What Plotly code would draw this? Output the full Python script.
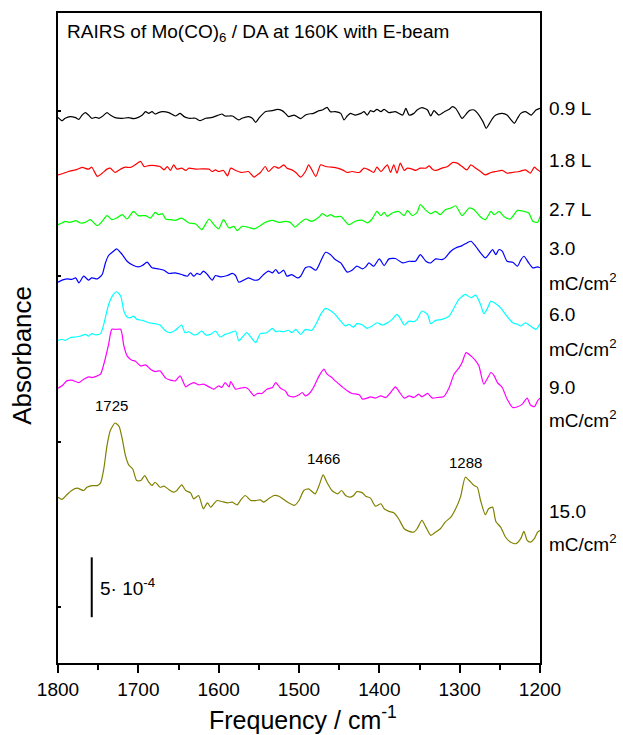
import plotly.graph_objects as go

# ---------------- data (absorbance in units of 1e-4, stacked with offsets) ----------------
black_f = [1800,1795,1791,1785,1778,1774,1770,1766,1762,1758,1753,1749,1745,1739,1735,1729,1720,1712,1706,1700,
           1695,1691,1687,1683,1679,1675,1670,1662,1654,1648,1643,1637,1629,1623,1616,1608,1600,1596,1592,1583,
           1575,1571,1563,1558,1554,1550,1542,1533,1527,1521,1517,1513,1506,1498,1492,1488,1482,1475,1471,1465,
           1461,1455,1448,1444,1440,1436,1430,1423,1419,1415,1411,1407,1403,1398,1394,1388,1380,1371,1367,1363,
           1357,1353,1347,1340,1336,1332,1326,1319,1313,1309,1305,1301,1297,1288,1282,1276,1271,1267,1264,1259,
           1255,1247,1241,1236,1232,1228,1224,1218,1211,1205,1200]
black_a = [45.61,45.33,45.53,45.67,45.58,45.44,45.80,46.00,45.80,45.53,45.61,45.53,45.67,46.00,45.80,45.58,45.53,45.58,45.50,45.61,
           45.80,46.08,45.94,46.08,45.89,46.00,46.08,46.00,45.72,45.94,45.67,45.53,45.53,45.33,45.53,45.61,45.80,45.89,45.72,45.72,
           45.39,45.53,45.67,45.53,45.19,45.53,46.08,46.17,46.28,46.17,45.94,45.67,45.80,45.50,45.80,45.89,45.94,46.17,46.22,46.44,
           46.08,46.08,45.94,45.39,45.72,45.94,45.80,45.94,46.08,45.80,46.17,46.08,46.28,46.08,46.28,46.00,46.08,45.80,46.36,45.80,
           45.94,46.22,46.42,46.22,45.72,46.17,45.80,46.08,46.28,46.50,46.36,45.94,45.53,46.17,46.22,45.80,45.25,44.69,44.97,45.53,
           45.80,45.94,45.80,45.39,45.11,45.53,45.94,46.08,45.80,46.22,46.36]

red_f = [1800,1795,1787,1778,1770,1762,1758,1751,1745,1739,1735,1729,1722,1716,1710,1704,1697,1693,1687,1679,
         1673,1668,1664,1660,1656,1652,1646,1641,1637,1629,1621,1612,1608,1604,1600,1594,1589,1585,1579,1571,
         1563,1556,1552,1548,1542,1538,1531,1525,1519,1515,1509,1504,1498,1492,1488,1484,1479,1473,1467,1459,
         1452,1446,1440,1434,1425,1419,1413,1407,1403,1398,1394,1390,1386,1382,1378,1374,1369,1365,1359,1355,
         1349,1342,1338,1334,1330,1322,1315,1309,1303,1297,1291,1286,1280,1274,1268,1261,1255,1247,1241,1234,
         1226,1218,1212,1207,1203,1200]
red_a = [40.80,40.89,41.08,41.22,41.42,41.28,41.44,40.67,40.94,41.28,41.36,41.00,41.28,41.44,41.42,41.64,41.92,41.50,41.58,41.58,
         41.50,41.22,41.50,41.17,41.64,41.28,41.36,41.17,41.36,41.28,41.30,41.28,41.08,41.22,41.08,41.17,40.72,41.36,41.17,41.00,
         41.08,40.61,40.80,41.00,41.50,41.08,41.50,41.36,41.64,41.36,41.22,41.00,40.61,41.08,41.64,41.22,40.67,41.64,41.50,41.44,
         41.36,41.22,41.00,41.08,41.00,41.36,41.22,41.00,41.44,41.08,41.36,41.64,41.00,41.64,40.94,41.78,41.17,41.36,41.28,41.17,
         41.36,41.36,41.55,41.28,41.17,41.36,41.50,41.83,41.78,41.50,41.22,41.64,41.36,41.08,40.80,41.00,41.08,41.17,40.94,41.00,
         41.08,41.22,40.94,41.44,41.22,41.08]

green_f = [1800,1795,1791,1785,1778,1772,1766,1760,1751,1745,1739,1733,1727,1720,1714,1706,1700,1691,1685,1679,
           1675,1670,1666,1660,1654,1646,1637,1629,1621,1612,1606,1600,1594,1587,1581,1577,1571,1563,1556,1548,
           1542,1533,1525,1517,1511,1505,1498,1492,1484,1475,1471,1465,1461,1455,1448,1438,1430,1421,1415,1409,
           1403,1398,1394,1390,1384,1376,1369,1365,1359,1353,1349,1342,1336,1330,1324,1318,1311,1305,1297,1288,
           1282,1274,1268,1261,1257,1251,1245,1237,1228,1220,1214,1209,1203,1200]
green_a = [36.64,36.78,36.92,36.83,36.97,36.78,36.83,37.06,36.56,36.92,37.39,37.06,37.19,37.47,37.11,37.75,37.39,37.39,37.19,37.67,
           37.47,37.56,37.11,37.06,37.00,37.19,36.78,36.72,36.22,37.11,36.64,36.28,37.06,36.36,36.50,36.14,36.50,36.42,36.28,36.56,
           36.83,37.00,36.83,36.92,36.83,36.44,36.83,37.11,36.92,37.28,37.56,37.33,37.47,37.28,37.33,36.64,36.92,37.00,36.78,37.11,
           37.75,37.39,37.67,37.33,37.61,37.75,37.39,37.83,37.39,37.67,38.31,37.83,37.56,37.75,37.47,37.89,38.03,38.22,37.39,38.03,
           37.89,37.28,37.06,37.75,37.47,37.75,37.33,37.11,37.83,37.75,37.61,36.92,36.83,37.33]

blue_f = [1800,1795,1789,1783,1778,1774,1768,1762,1758,1751,1745,1741,1737,1731,1727,1720,1714,1706,1700,1695,
          1689,1683,1675,1668,1662,1654,1646,1639,1635,1631,1627,1623,1619,1614,1608,1604,1598,1589,1583,1579,
          1575,1569,1563,1556,1550,1544,1538,1533,1529,1525,1519,1515,1509,1502,1498,1492,1486,1479,1473,1467,
          1461,1455,1448,1440,1434,1428,1421,1417,1413,1407,1400,1394,1388,1380,1371,1363,1355,1349,1342,1336,
          1330,1322,1318,1311,1305,1297,1291,1286,1280,1274,1268,1264,1259,1255,1251,1247,1241,1234,1228,1224,
          1220,1214,1209,1203,1200]
blue_a = [31.83,32.00,32.11,32.06,32.19,31.78,32.33,32.00,32.19,32.11,32.47,33.44,34.06,34.42,34.61,34.14,33.58,33.22,33.11,33.22,
          33.50,33.03,32.94,32.83,32.56,32.61,32.47,32.33,32.61,32.33,32.56,32.47,32.75,32.47,32.00,32.39,32.28,32.39,32.56,32.39,
          31.83,32.00,32.19,32.00,32.06,32.47,32.75,32.61,32.89,32.56,32.83,32.33,32.47,32.19,32.33,33.03,33.11,32.83,33.58,34.33,
          34.14,33.72,33.44,32.67,32.83,33.17,32.94,33.11,33.44,33.17,33.78,33.22,33.78,33.81,33.44,33.58,33.58,34.14,33.58,33.44,
          33.78,33.72,33.86,34.42,34.69,34.89,35.11,35.25,34.83,34.28,33.86,34.14,34.56,34.14,34.56,34.42,33.58,33.50,33.17,33.67,
          34.00,33.44,33.03,33.11,33.03]

cyan_f = [1800,1795,1791,1785,1778,1772,1766,1762,1758,1753,1747,1743,1737,1731,1727,1722,1718,1714,1710,1706,
          1702,1695,1687,1679,1673,1666,1660,1654,1646,1642,1637,1631,1627,1621,1616,1610,1604,1598,1592,1585,
          1579,1575,1571,1565,1558,1554,1548,1540,1533,1529,1525,1519,1513,1509,1504,1498,1492,1484,1479,1473,
          1467,1461,1455,1450,1442,1438,1432,1428,1421,1415,1409,1403,1396,1390,1384,1378,1374,1369,1363,1357,
          1353,1347,1340,1336,1330,1322,1313,1307,1301,1293,1286,1280,1274,1270,1266,1261,1255,1249,1243,1234,
          1228,1224,1218,1212,1205,1200]
cyan_a = [26.97,27.06,26.97,27.19,27.25,27.33,27.47,27.33,27.53,27.42,27.53,28.31,29.97,30.81,31.03,30.67,29.42,28.92,28.86,29.00,
          28.72,28.64,28.44,28.36,28.25,27.75,27.61,27.81,28.25,27.61,27.69,27.42,27.47,27.75,27.42,27.47,27.75,27.25,27.47,27.61,
          27.75,26.92,27.19,27.61,27.06,26.78,27.53,27.61,27.97,27.69,27.75,27.69,27.81,27.61,27.89,27.47,27.89,27.81,28.31,29.14,
          29.64,29.47,29.14,28.72,28.17,28.31,28.08,28.36,28.25,27.97,28.17,28.44,28.25,28.44,28.72,29.14,28.81,28.25,28.58,28.53,
          28.72,29.42,29.14,28.36,28.64,28.72,29.00,29.69,30.39,30.81,30.53,30.75,29.97,29.19,29.56,30.25,30.03,29.69,29.14,28.44,
          28.31,28.17,28.44,28.17,27.89,28.36]

magenta_f = [1800,1795,1789,1783,1774,1768,1762,1758,1751,1747,1743,1737,1733,1728,1722,1718,1714,1708,1704,1697,
             1691,1685,1679,1673,1666,1660,1654,1648,1641,1637,1631,1625,1619,1612,1606,1600,1596,1592,1587,1585,
             1579,1573,1567,1563,1556,1552,1546,1540,1533,1529,1523,1517,1513,1506,1500,1496,1492,1486,1482,1475,
             1469,1465,1459,1455,1446,1440,1434,1425,1421,1415,1411,1405,1398,1392,1386,1380,1376,1369,1363,1357,
             1351,1347,1340,1334,1328,1320,1313,1307,1301,1297,1292,1286,1280,1276,1270,1266,1261,1257,1253,1247,
             1241,1234,1228,1222,1216,1212,1207,1203,1200]
magenta_a = [22.97,23.17,23.58,23.64,23.44,23.72,23.92,23.86,24.00,24.14,24.97,26.64,27.89,27.89,27.89,26.50,25.67,25.31,25.25,24.83,
             24.92,24.56,24.36,24.42,23.81,23.64,23.58,24.00,23.08,23.25,23.44,23.25,23.31,23.08,22.89,23.17,23.03,23.44,23.08,23.53,
             22.89,22.97,23.03,22.89,22.33,22.53,22.53,22.89,23.03,23.44,22.97,22.75,22.33,22.25,22.42,22.61,22.33,22.61,23.03,24.00,
             24.56,24.14,23.86,23.58,23.08,22.75,22.53,22.42,22.06,22.14,22.25,22.14,22.33,22.19,22.61,23.08,22.75,22.14,22.33,22.19,
             22.47,22.25,22.53,22.14,22.19,22.25,23.03,24.14,24.64,25.11,25.94,25.67,25.25,24.83,23.31,23.72,24.28,24.00,23.44,23.03,
             22.06,21.36,21.42,21.64,22.14,21.58,21.42,21.92,22.14]

olive_f = [1800,1795,1789,1783,1776,1768,1764,1758,1751,1747,1743,1739,1735,1729,1724,1720,1716,1712,1707,1702,
           1697,1692,1687,1683,1679,1673,1668,1662,1656,1652,1646,1641,1635,1631,1625,1619,1614,1610,1606,1602,
           1596,1589,1583,1577,1573,1567,1560,1554,1548,1544,1538,1531,1525,1519,1513,1506,1500,1494,1488,1480,
           1475,1470,1465,1459,1452,1447,1442,1436,1432,1428,1421,1417,1411,1405,1398,1394,1388,1382,1376,1369,
           1363,1357,1353,1347,1342,1336,1330,1324,1318,1311,1305,1299,1293,1288,1282,1278,1274,1268,1264,1259,
           1255,1249,1243,1237,1230,1224,1220,1216,1212,1207,1203,1200]
olive_a = [13.86,13.67,14.06,14.42,14.61,14.42,14.69,14.83,14.83,15.06,16.22,18.17,19.42,20.06,19.78,18.72,17.33,16.56,16.22,15.25,
           15.25,15.67,15.11,14.83,15.11,14.69,14.78,14.50,14.28,14.42,14.89,14.42,14.22,13.72,14.00,12.89,13.39,13.03,13.31,13.58,
           13.50,13.39,13.44,13.22,13.58,14.00,13.58,13.58,13.64,13.44,13.72,14.00,13.94,13.67,13.39,13.17,13.58,14.42,14.56,14.14,
           14.83,15.72,15.06,14.42,14.14,14.42,14.00,13.86,14.00,14.33,14.22,13.94,13.78,13.11,13.31,12.89,12.67,12.56,12.06,11.22,
           11.00,10.94,11.22,11.92,11.36,10.67,10.94,11.22,11.78,12.19,12.89,13.86,15.53,15.25,14.83,14.69,13.58,12.39,12.89,13.03,
           11.83,11.36,10.53,10.11,9.97,10.39,11.00,10.25,10.11,10.39,10.94,11.08]

series_colors = ["#000000", "#FF0000", "#00FF00", "#0000FF", "#00FFFF", "#FF00FF", "#808000"]
series_labels = [["0.9 L"], ["1.8 L"], ["2.7 L"], ["3.0", "mC/cm<sup>2</sup>"], ["6.0", "mC/cm<sup>2</sup>"],
                 ["9.0", "mC/cm<sup>2</sup>"], ["15.0", "mC/cm<sup>2</sup>"]]
label_levels = [[46.33], [42.0], [37.92], [34.67, 31.83], [29.17, 26.33], [23.0, 20.42], [12.67, 10.0]]

peak_labels = ["1725", "1466", "1288"]
peak_label_x = [1733, 1470, 1293]
peak_label_y = [21.5, 17.08, 16.75]

scale_bar_value = 5.0          # 5 x 1e-4
scale_bar_x = 1758
scale_bar_y0 = 3.83

x_ticks = [1800, 1700, 1600, 1500, 1400, 1300, 1200]

title_text = "RAIRS of Mo(CO)<sub>6</sub> / DA at 160K with E-beam"

# ---------------- figure ----------------
FONT = "Arial, 'Liberation Sans', Helvetica, sans-serif"
fig = go.Figure()
series = [(black_f, black_a), (red_f, red_a), (green_f, green_a), (blue_f, blue_a),
          (cyan_f, cyan_a), (magenta_f, magenta_a), (olive_f, olive_a)]
for (f, a), c in zip(series, series_colors):
    assert len(f) == len(a), (len(f), len(a))
    fig.add_trace(go.Scatter(x=f, y=a, mode="lines", line=dict(color=c, width=1.2, shape="spline", smoothing=0.6),
                             showlegend=False, hoverinfo="skip"))

# scale bar
fig.add_trace(go.Scatter(x=[scale_bar_x, scale_bar_x], y=[scale_bar_y0, scale_bar_y0 + scale_bar_value],
                         mode="lines", line=dict(color="black", width=2), showlegend=False, hoverinfo="skip"))

ann = []
for lbls, lvls in zip(series_labels, label_levels):
    for t, yv in zip(lbls, lvls):
        ann.append(dict(x=1.0145, xref="paper", y=yv, yref="y", text=t, showarrow=False,
                        xanchor="left", yanchor="middle", font=dict(size=19, color="black", family=FONT)))
for t, xv, yv in zip(peak_labels, peak_label_x, peak_label_y):
    ann.append(dict(x=xv, y=yv, xref="x", yref="y", text=t, showarrow=False,
                    xanchor="center", yanchor="middle", font=dict(size=15, color="black", family=FONT)))
ann.append(dict(x=scale_bar_x - 8, y=scale_bar_y0 + scale_bar_value / 2, xref="x", yref="y",
                text="5\u00b7 10<sup>-4</sup>", showarrow=False, xanchor="left", yanchor="middle",
                font=dict(size=19, color="black", family=FONT)))
ann.append(dict(x=0.0145, y=0.969, xref="paper", yref="paper", text=title_text, showarrow=False,
                xanchor="left", yanchor="middle", font=dict(size=19, color="black", family=FONT)))
ann.append(dict(x=-0.075, y=0.474, xref="paper", yref="paper", text="Absorbance", textangle=-90,
                showarrow=False, xanchor="center", yanchor="middle",
                font=dict(size=26, color="black", family=FONT)))
ann.append(dict(x=0.508, y=-0.084, xref="paper", yref="paper", text="Frequency / cm<sup>-1</sup>",
                showarrow=False, xanchor="center", yanchor="middle",
                font=dict(size=25, color="black", family=FONT)))

fig.update_layout(
    width=623, height=735,
    margin=dict(l=58, r=83, t=11, b=72, pad=0),
    paper_bgcolor="white", plot_bgcolor="white",
    font=dict(family=FONT, color="black"),
    annotations=ann,
    xaxis=dict(range=[1800, 1200], tickvals=x_ticks, ticks="outside", ticklen=8, tickwidth=2,
               tickcolor="black", tickfont=dict(size=19, family=FONT, color="black"),
               minor=dict(dtick=50, tick0=1200, ticks="outside", ticklen=5, tickwidth=2, tickcolor="black"),
               showline=True, linewidth=2, linecolor="black", mirror=True,
               showgrid=False, zeroline=False),
    yaxis=dict(range=[0, 54.33], showticklabels=False, ticks="inside", ticklen=3, tickwidth=2,
               tickcolor="black", tick0=4.67, dtick=13.83,
               showline=True, linewidth=2, linecolor="black", mirror=True,
               showgrid=False, zeroline=False),
)

fig.write_html("out.html")
